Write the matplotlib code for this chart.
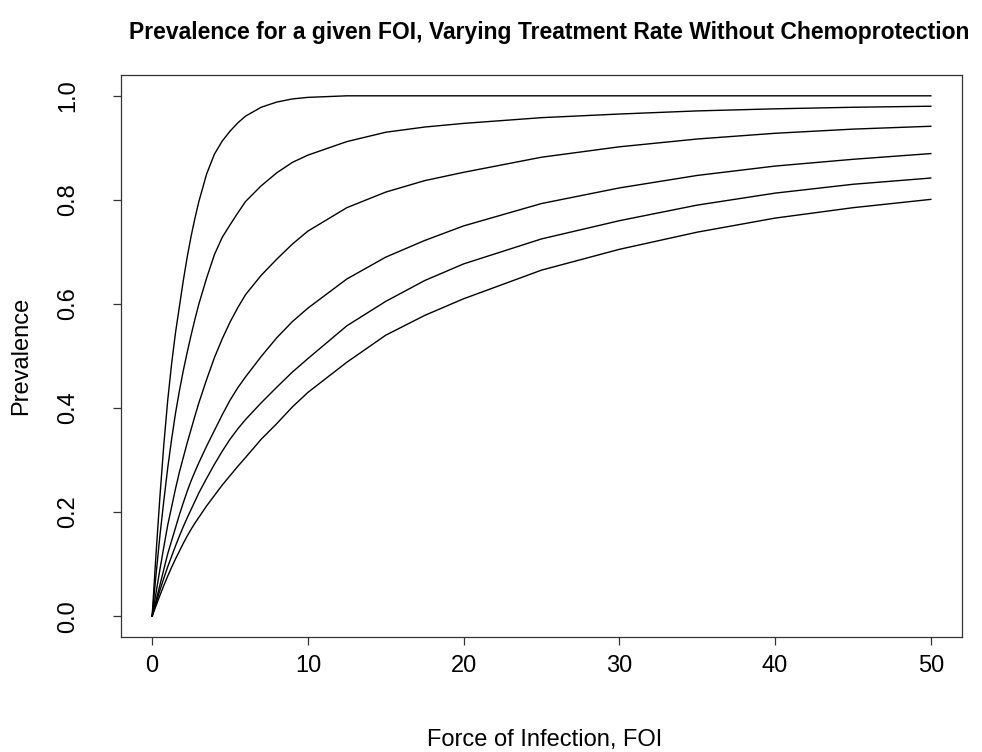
import matplotlib
matplotlib.use("Agg")
import matplotlib.pyplot as plt

plt.rcParams['font.family'] = ['Liberation Sans', 'DejaVu Sans']

# Force of infection grid (x values)
foi = [0, 0.25, 0.5, 0.75, 1, 1.25, 1.5, 1.75, 2, 2.25, 2.5, 2.75, 3, 3.5, 4, 4.5, 5, 5.5, 6,
       7, 8, 9, 10, 12.5, 15, 17.5, 20, 25, 30, 35, 40, 45, 50]

# Prevalence curves, top to bottom (increasing treatment rate)
prev_1 = [0, 0.12, 0.23, 0.33, 0.415, 0.485, 0.545, 0.595, 0.645, 0.69, 0.73, 0.765, 0.797,
          0.85, 0.888, 0.913, 0.932, 0.948, 0.961, 0.978, 0.988, 0.994, 0.997,
          1.0, 1.0, 1.0, 1.0, 1.0, 1.0, 1.0, 1.0, 1.0, 1.0]
prev_2 = [0, 0.08, 0.155, 0.222, 0.285, 0.34, 0.39, 0.433, 0.472, 0.507, 0.54, 0.571, 0.6,
          0.65, 0.695, 0.728, 0.752, 0.775, 0.797, 0.827, 0.852, 0.872, 0.886,
          0.912, 0.93, 0.94, 0.947, 0.958, 0.965, 0.971, 0.975, 0.978, 0.98]
prev_3 = [0, 0.045, 0.09, 0.133, 0.175, 0.21, 0.245, 0.277, 0.305, 0.333, 0.359, 0.385, 0.41,
          0.455, 0.497, 0.533, 0.565, 0.593, 0.618, 0.655, 0.686, 0.715, 0.74,
          0.785, 0.815, 0.837, 0.853, 0.882, 0.902, 0.917, 0.928, 0.936, 0.9415]
prev_4 = [0, 0.03, 0.06, 0.09, 0.12, 0.145, 0.17, 0.195, 0.218, 0.24, 0.26, 0.278, 0.295,
          0.327, 0.357, 0.387, 0.415, 0.439, 0.46, 0.499, 0.535, 0.566, 0.592,
          0.648, 0.69, 0.722, 0.75, 0.793, 0.823, 0.847, 0.865, 0.878, 0.889]
prev_5 = [0, 0.025, 0.05, 0.073, 0.095, 0.115, 0.135, 0.154, 0.172, 0.189, 0.205, 0.221, 0.237,
          0.265, 0.292, 0.317, 0.34, 0.36, 0.378, 0.41, 0.44, 0.469, 0.495,
          0.558, 0.605, 0.645, 0.677, 0.725, 0.76, 0.79, 0.813, 0.83, 0.842]
prev_6 = [0, 0.02, 0.04, 0.059, 0.077, 0.094, 0.11, 0.125, 0.14, 0.154, 0.167, 0.179, 0.19,
          0.212, 0.232, 0.252, 0.27, 0.288, 0.305, 0.34, 0.37, 0.402, 0.43,
          0.488, 0.54, 0.578, 0.61, 0.665, 0.705, 0.738, 0.765, 0.785, 0.801]

x_ticks = [0, 10, 20, 30, 40, 50]
y_ticks = [0.0, 0.2, 0.4, 0.6, 0.8, 1.0]
y_tick_labels = ["0.0", "0.2", "0.4", "0.6", "0.8", "1.0"]

W, H = 982, 752
fig = plt.figure(figsize=(W / 100, H / 100), dpi=100)
ax = fig.add_axes([121 / W, 1 - 637 / H, (962 - 121) / W, (637 - 75) / H])

for series in [prev_1, prev_2, prev_3, prev_4, prev_5, prev_6]:
    ax.plot(foi, series, color='black', lw=1.0)

ax.set_xlim(-2, 52)
ax.set_ylim(-0.04, 1.04)
ax.set_xticks(x_ticks)
ax.set_xticklabels([str(t) for t in x_ticks])
ax.set_yticks(y_ticks)
ax.set_yticklabels(y_tick_labels, rotation=90, va='center')
ax.tick_params(axis='both', direction='out', length=6, width=0.9, labelsize=17,
               color='#333333')
ax.tick_params(axis='x', pad=7)
ax.tick_params(axis='y', pad=24)
for s in ax.spines.values():
    s.set_linewidth(0.9)
    s.set_color('#333333')

fig.text(545 / W, 1 - 740 / H, "Force of Infection, FOI", ha='center', va='center',
         fontsize=17)
fig.text(21 / W, 1 - 356 / H, "Prevalence", ha='center', va='center',
         fontsize=17, rotation=90)
fig.text(549 / W, 1 - 33 / H,
         "Prevalence for a given FOI, Varying Treatment Rate Without Chemoprotection",
         ha='center', va='center', fontsize=16.5, fontweight='bold')

fig.savefig("out.png", dpi=100, facecolor='white')
